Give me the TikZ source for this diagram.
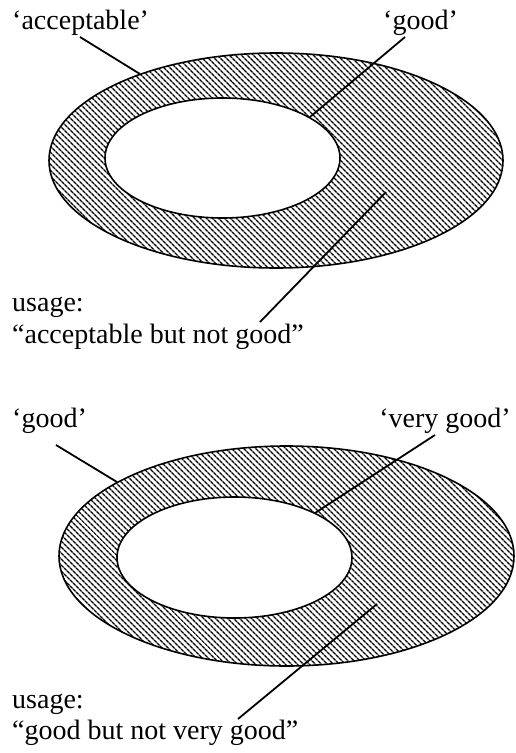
\documentclass[tikz,border=0pt]{standalone}
\usepackage{fontspec}
\setmainfont{Liberation Serif}
\usetikzlibrary{patterns.meta}
\begin{document}
\begin{tikzpicture}[x=1pt,y=-1pt,
  lbl/.style={anchor=base west,inner sep=0pt,font=\fontsize{28}{32}\selectfont},
  ring/.style={draw=black,line width=1.6pt,pattern={Lines[angle=-45,distance=4pt,line width=1.6pt]}},
  hole/.style={draw=black,line width=1.6pt,fill=white},
  conn/.style={line width=1.8pt}]
\useasboundingbox (0,0) rectangle (515,753);
% ---------- top diagram ----------
\path[ring] (276,160.5) ellipse [x radius=227pt, y radius=107.5pt];
\path[hole] (222.5,158) ellipse [x radius=117.5pt, y radius=60pt];
\node[lbl] (tacc) at (12,29.5) {‘acceptable’};
\node[lbl] (tgood) at (383,29) {‘good’};
\node[lbl] (tuse) at (12,311) {usage:};
\node[lbl] (tuse2) at (12,343) {“acceptable but not good”};
\coordinate (ta1) at (80,37);
\coordinate (ta2) at (140,74);
\coordinate (tg1) at (405,37);
\coordinate (tg2) at (310,117);
\coordinate (tu1) at (386,192);
\coordinate (tu2) at (260,322);
\draw[conn] (ta1) -- (ta2);
\draw[conn] (tg1) -- (tg2);
\draw[conn] (tu1) -- (tu2);
% ---------- bottom diagram ----------
\path[ring] (286.5,556) ellipse [x radius=227.5pt, y radius=110pt];
\path[hole] (234.5,557.5) ellipse [x radius=117.5pt, y radius=60.5pt];
\node[lbl] (bgood) at (12,427.5) {‘good’};
\node[lbl,anchor=base east] (bvery) at (511,427.5) {‘very good’};
\node[lbl] (buse) at (12,708) {usage:};
\node[lbl] (buse2) at (12,739) {“good but not very good”};
\coordinate (bg1) at (56,445);
\coordinate (bg2) at (117,482);
\coordinate (bv1) at (435,435);
\coordinate (bv2) at (315,513);
\coordinate (bu1) at (377,604);
\coordinate (bu2) at (238,719);
\draw[conn] (bg1) -- (bg2);
\draw[conn] (bv1) -- (bv2);
\draw[conn] (bu1) -- (bu2);
\end{tikzpicture}
\end{document}
